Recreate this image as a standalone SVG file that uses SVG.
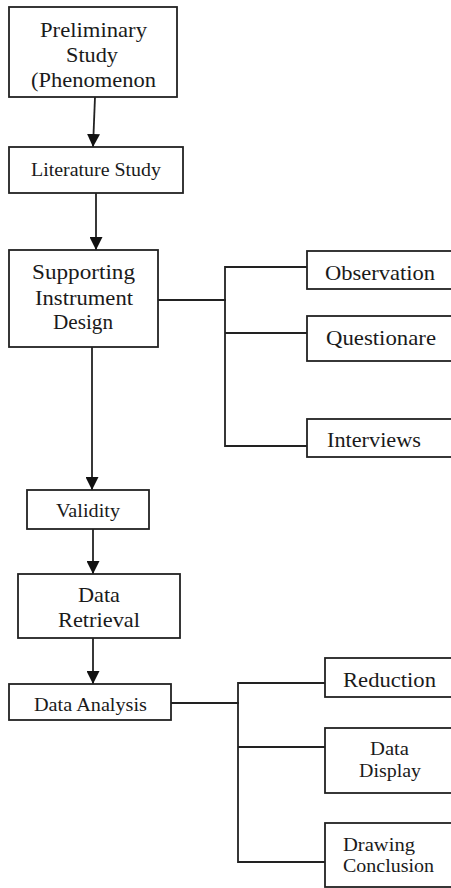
<svg xmlns="http://www.w3.org/2000/svg" width="451" height="888" viewBox="0 0 451 888">
<style>
.box{fill:#fff;stroke:#222;stroke-width:1.8}
.ln{fill:none;stroke:#222;stroke-width:1.8}
.t{font-family:"Liberation Serif","Times New Roman",serif;fill:#1a1a1a}
.l{font-size:21px}
.s{font-size:18.5px}
</style>
<defs>
<marker id="ah" markerUnits="userSpaceOnUse" markerWidth="13" markerHeight="13" refX="13" refY="6.5" orient="auto">
<path d="M0,0 L13,6.5 L0,13 z" fill="#111"/>
</marker>
</defs>
<g id="connectors">
<line class="ln" x1="95" y1="97" x2="93" y2="147" marker-end="url(#ah)"/>
<line class="ln" x1="96" y1="193" x2="96" y2="250" marker-end="url(#ah)"/>
<line class="ln" x1="92" y1="347" x2="92" y2="490" marker-end="url(#ah)"/>
<line class="ln" x1="93" y1="529" x2="93" y2="574" marker-end="url(#ah)"/>
<line class="ln" x1="93" y1="638" x2="93" y2="684" marker-end="url(#ah)"/>
<path class="ln" d="M158,300 H226 M307,267 H225 V446 H307 M225,333 H307"/>
<path class="ln" d="M171,703 H239 M325,683 H238 V862 H325 M238,747 H325"/>
</g>
<g id="preliminary">
<rect class="box" x="9" y="7" width="168" height="90"/>
<text class="t l" x="40" y="37" textLength="107" lengthAdjust="spacingAndGlyphs">Preliminary</text>
<text class="t l" x="66" y="62" textLength="52" lengthAdjust="spacingAndGlyphs">Study</text>
<text class="t l" x="31" y="87" textLength="125" lengthAdjust="spacingAndGlyphs">(Phenomenon</text>
</g>
<g id="literature">
<rect class="box" x="9" y="147" width="174" height="46"/>
<text class="t s" x="31" y="176" textLength="130" lengthAdjust="spacingAndGlyphs">Literature Study</text>
</g>
<g id="supporting">
<rect class="box" x="9" y="250" width="149" height="97"/>
<text class="t l" x="32" y="279" textLength="103" lengthAdjust="spacingAndGlyphs">Supporting</text>
<text class="t l" x="35" y="305" textLength="98" lengthAdjust="spacingAndGlyphs">Instrument</text>
<text class="t l" x="53" y="329" textLength="60" lengthAdjust="spacingAndGlyphs">Design</text>
</g>
<g id="observation">
<rect class="box" x="307" y="251" width="160" height="38"/>
<text class="t l" x="325" y="280" textLength="110" lengthAdjust="spacingAndGlyphs">Observation</text>
</g>
<g id="questionare">
<rect class="box" x="307" y="316" width="160" height="45"/>
<text class="t l" x="326" y="345" textLength="110" lengthAdjust="spacingAndGlyphs">Questionare</text>
</g>
<g id="interviews">
<rect class="box" x="307" y="419" width="160" height="38"/>
<text class="t l" x="327" y="447" textLength="94" lengthAdjust="spacingAndGlyphs">Interviews</text>
</g>
<g id="validity">
<rect class="box" x="27" y="490" width="122" height="39"/>
<text class="t s" x="56" y="517" textLength="64" lengthAdjust="spacingAndGlyphs">Validity</text>
</g>
<g id="retrieval">
<rect class="box" x="18" y="574" width="162" height="64"/>
<text class="t l" x="78" y="602" textLength="42" lengthAdjust="spacingAndGlyphs">Data</text>
<text class="t l" x="58" y="627" textLength="82" lengthAdjust="spacingAndGlyphs">Retrieval</text>
</g>
<g id="analysis">
<rect class="box" x="9" y="684" width="162" height="36"/>
<text class="t s" x="34" y="711" textLength="113" lengthAdjust="spacingAndGlyphs">Data Analysis</text>
</g>
<g id="reduction">
<rect class="box" x="325" y="658" width="140" height="39"/>
<text class="t l" x="343" y="687" textLength="93" lengthAdjust="spacingAndGlyphs">Reduction</text>
</g>
<g id="display">
<rect class="box" x="325" y="728" width="140" height="65"/>
<text class="t s" x="370" y="755" textLength="39" lengthAdjust="spacingAndGlyphs">Data</text>
<text class="t s" x="359" y="777" textLength="62" lengthAdjust="spacingAndGlyphs">Display</text>
</g>
<g id="conclusion">
<rect class="box" x="325" y="823" width="140" height="64"/>
<text class="t s" x="343" y="851" textLength="72" lengthAdjust="spacingAndGlyphs">Drawing</text>
<text class="t s" x="343" y="872" textLength="91" lengthAdjust="spacingAndGlyphs">Conclusion</text>
</g>
</svg>
